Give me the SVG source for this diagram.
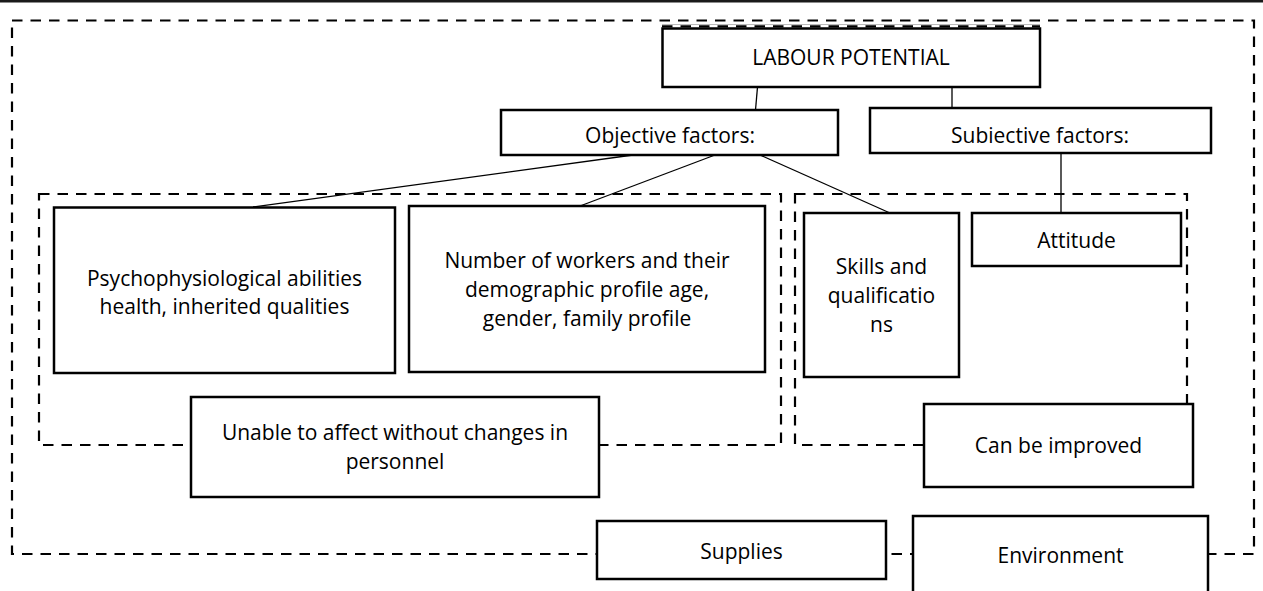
<svg xmlns="http://www.w3.org/2000/svg" width="1263" height="591" viewBox="0 0 1263 591">
<style>
.dash{fill:none;stroke:#000;stroke-width:2.2;stroke-dasharray:10.5 8}
.box{fill:#fff;stroke:#000;stroke-width:2.5}
.conn{stroke:#000;stroke-width:1.3;fill:none}
text{font-family:"Open Sans","Liberation Sans",sans-serif;font-size:21px;fill:#000;text-anchor:middle}
</style>
<rect width="1263" height="591" fill="#fff"/>
<line x1="0" y1="1.3" x2="1263" y2="1.3" stroke="#1a1a1a" stroke-width="2.6"/>
<g id="frames">
<rect class="dash" x="12" y="20.5" width="1242" height="533.5"/>
<rect class="dash" x="39" y="194" width="742" height="251"/>
<rect class="dash" x="795" y="194" width="392" height="251"/>
<line x1="662" y1="24.5" x2="1040" y2="24.5" stroke="#bbb" stroke-width="1"/>
<line x1="662" y1="26.3" x2="1040" y2="26.3" class="dash" stroke-width="1.6"/>
</g>
<g id="connectors">
<line class="conn" x1="757.5" y1="87" x2="755.5" y2="110"/>
<line class="conn" x1="952" y1="87" x2="952" y2="108"/>
<line class="conn" x1="633" y1="155" x2="253" y2="207"/>
<line class="conn" x1="715" y1="155" x2="580" y2="206"/>
<line class="conn" x1="760" y1="155" x2="890" y2="213"/>
<line class="conn" x1="1061" y1="153" x2="1061" y2="213"/>
</g>
<g id="labour">
<rect class="box" x="662.5" y="28.5" width="377.5" height="58.5"/>
<text x="851" y="65">LABOUR POTENTIAL</text>
</g>
<g id="objective">
<rect class="box" x="501" y="110" width="337" height="45"/>
<text x="670" y="143">Objective factors:</text>
</g>
<g id="subjective">
<rect class="box" x="870" y="108" width="341" height="45"/>
<text x="1040" y="143">Subiective factors:</text>
</g>
<g id="psycho">
<rect class="box" x="54" y="207.5" width="341" height="165.5"/>
<text x="224.5" y="285.5">Psychophysiological abilities</text>
<text x="224.5" y="314">health, inherited qualities</text>
</g>
<g id="number">
<rect class="box" x="409" y="206" width="356" height="166"/>
<text x="587" y="268">Number of workers and their</text>
<text x="587" y="297">demographic profile age,</text>
<text x="587" y="326">gender, family profile</text>
</g>
<g id="skills">
<rect class="box" x="804" y="213" width="155" height="164"/>
<text x="881.5" y="274">Skills and</text>
<text x="881.5" y="303">qualificatio</text>
<text x="881.5" y="332">ns</text>
</g>
<g id="attitude">
<rect class="box" x="972" y="213" width="209" height="53"/>
<text x="1076.5" y="248">Attitude</text>
</g>
<g id="unable">
<rect class="box" x="191" y="397" width="408" height="100"/>
<text x="395" y="440">Unable to affect without changes in</text>
<text x="395" y="469">personnel</text>
</g>
<g id="improved">
<rect class="box" x="924" y="404" width="269" height="83"/>
<text x="1058.5" y="453">Can be improved</text>
</g>
<g id="supplies">
<rect class="box" x="597" y="521" width="289" height="58"/>
<text x="741.5" y="559">Supplies</text>
</g>
<g id="environment">
<rect class="box" x="913" y="516" width="295" height="85"/>
<text x="1060.5" y="563">Environment</text>
</g>
</svg>
